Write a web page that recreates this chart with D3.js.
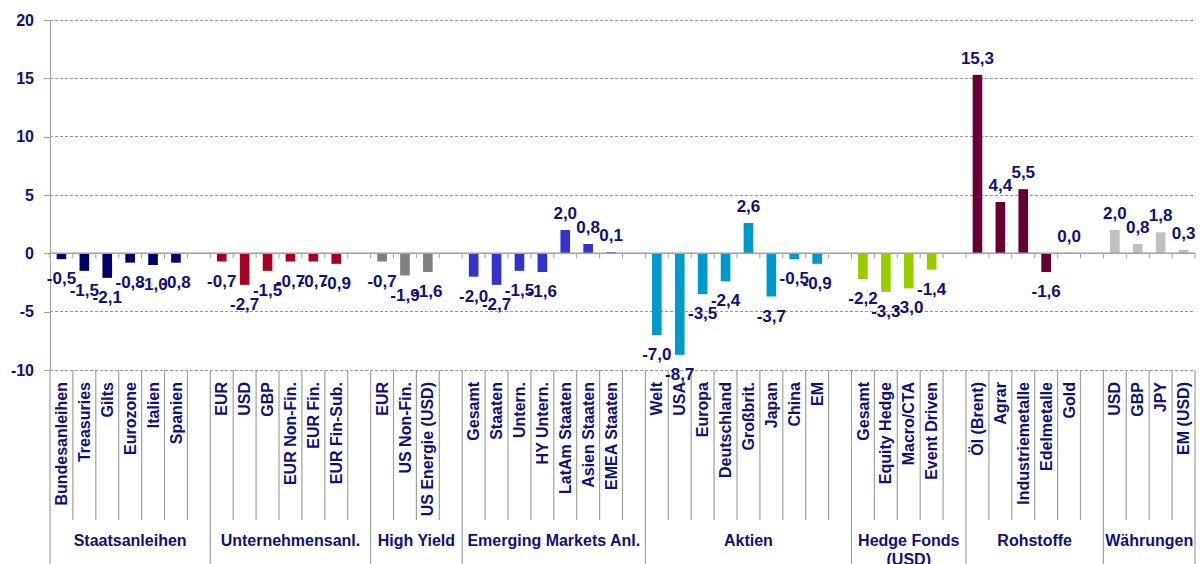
<!DOCTYPE html>
<html>
<head>
<meta charset="utf-8">
<script src="https://cdn.jsdelivr.net/npm/d3@7"></script>
<style>
  html, body { margin: 0; padding: 0; background: #fff; }
  svg { display: block; font-family: "Liberation Sans", Arial, sans-serif; font-weight: bold; }
</style>
</head>
<body>
<svg id="chart" width="1200" height="564"></svg>
<script>
// ---- data ----
const groups = ["Staatsanleihen", "Unternehmensanl.", "High Yield", "Emerging Markets Anl.", "Aktien", "Hedge Fonds (USD)", "Rohstoffe", "Währungen"];
const staatsCats = ["Bundesanleihen", "Treasuries", "Gilts", "Eurozone", "Italien", "Spanien"];
const staatsVals = [-0.5, -1.5, -2.1, -0.8, -1.0, -0.8];
const unternCats = ["EUR", "USD", "GBP", "EUR Non-Fin.", "EUR Fin.", "EUR Fin-Sub."];
const unternVals = [-0.7, -2.7, -1.5, -0.7, -0.7, -0.9];
const hyCats = ["EUR", "US Non-Fin.", "US Energie (USD)"];
const hyVals = [-0.7, -1.9, -1.6];
const emCats = ["Gesamt", "Staaten", "Untern.", "HY Untern.", "LatAm Staaten", "Asien Staaten", "EMEA Staaten"];
const emVals = [-2.0, -2.7, -1.5, -1.6, 2.0, 0.8, 0.1];
const aktienCats = ["Welt", "USA", "Europa", "Deutschland", "Großbrit.", "Japan", "China", "EM"];
const aktienVals = [-7.0, -8.7, -3.5, -2.4, 2.6, -3.7, -0.5, -0.9];
const hedgeCats = ["Gesamt", "Equity Hedge", "Macro/CTA", "Event Driven"];
const hedgeVals = [-2.2, -3.3, -3.0, -1.4];
const rohCats = ["Öl (Brent)", "Agrar", "Industriemetalle", "Edelmetalle", "Gold"];
const rohVals = [15.3, 4.4, 5.5, -1.6, 0.04];
const fxCats = ["USD", "GBP", "JPY", "EM (USD)"];
const fxVals = [2.0, 0.8, 1.8, 0.3];
const yTicks = [-10, -5, 0, 5, 10, 15, 20];

const groupColors = ["#000066", "#a50021", "#808080", "#3333cc", "#0099cc", "#99cc00", "#660033", "#c0c0c0"];
const categories = [staatsCats, unternCats, hyCats, emCats, aktienCats, hedgeCats, rohCats, fxCats];
const values = [staatsVals, unternVals, hyVals, emVals, aktienVals, hedgeVals, rohVals, fxVals];

// ---- slots (each group followed by an empty slot, except the last) ----
const slots = [];
categories.forEach((cats, gi) => {
  cats.forEach((c, ci) => slots.push({ id: gi + "-" + ci, group: gi, label: c, value: values[gi][ci] }));
  if (gi < categories.length - 1) slots.push({ id: gi + "-gap", group: gi, gap: true });
});

const textColor = "#10107a";
const axisColor = "#a0a0a0";
const plotL = 50, plotR = 1195, plotT = 20, plotB = 370;

const svg = d3.select("#chart");
const x = d3.scaleBand().domain(slots.map(d => d.id)).range([plotL, plotR]).padding(0);
const y = d3.scaleLinear().domain([-10, 20]).range([plotB, plotT]);
const bw = x.bandwidth();

// gridlines
svg.append("g").selectAll("line").data(yTicks.filter(t => t !== 0)).join("line")
  .attr("x1", plotL).attr("x2", plotR)
  .attr("y1", d => y(d)).attr("y2", d => y(d))
  .attr("stroke", "#9a9a9a").attr("stroke-width", 1).attr("stroke-dasharray", "3,2")
  .attr("shape-rendering", "crispEdges");

// y axis
const yAxis = d3.axisLeft(y).tickValues(yTicks).tickSize(6).tickSizeOuter(0).tickPadding(10)
  .tickFormat(d => String(d));
const ya = svg.append("g").attr("transform", `translate(${plotL},0)`).call(yAxis);
ya.select(".domain").attr("stroke", axisColor).attr("shape-rendering", "crispEdges");
ya.selectAll(".tick line").attr("stroke", axisColor).attr("shape-rendering", "crispEdges");
ya.selectAll(".tick text").attr("fill", textColor).style("font-size", "16px").style("font-weight", "bold")
  .style("font-family", "'Liberation Sans', Arial, sans-serif");

// bars
const barW = bw * 0.42;
const barSlots = slots.filter(d => !d.gap);
svg.append("g").selectAll("rect").data(barSlots).join("rect")
  .attr("x", d => x(d.id) + (bw - barW) / 2)
  .attr("width", barW)
  .attr("y", d => y(Math.max(0, d.value)))
  .attr("height", d => Math.abs(y(d.value) - y(0)))
  .attr("fill", d => groupColors[d.group]);

// zero axis line with ticks at slot boundaries
const boundaries = slots.map(d => x(d.id)).concat([plotR]);
svg.append("line").attr("x1", plotL).attr("x2", plotR).attr("y1", y(0)).attr("y2", y(0))
  .attr("stroke", axisColor).attr("stroke-width", 1.5);
svg.append("g").selectAll("line").data(boundaries).join("line")
  .attr("x1", d => d).attr("x2", d => d).attr("y1", y(0)).attr("y2", y(0) + 5)
  .attr("stroke", axisColor).attr("stroke-width", 1);

// bottom category separators
const groupEdges = [plotL, plotR];
slots.forEach(d => { if (d.gap) groupEdges.push(x(d.id) + bw); });
svg.append("g").selectAll("line").data(boundaries).join("line")
  .attr("x1", d => d).attr("x2", d => d)
  .attr("y1", plotB)
  .attr("y2", d => groupEdges.some(g => Math.abs(g - d) < 0.5) ? 564 : 520)
  .attr("stroke", axisColor).attr("stroke-width", 1.2);

// category labels (rotated)
svg.append("g").selectAll("text").data(barSlots).join("text")
  .attr("transform", d => `translate(${x(d.id) + bw / 2},382) rotate(-90)`)
  .attr("text-anchor", "end").attr("dy", "0.35em")
  .attr("fill", textColor).style("font-size", "16px")
  .text(d => d.label);

// group labels
const groupRanges = groups.map((g, gi) => {
  const s = slots.filter(d => d.group === gi);
  return { name: g, x0: x(s[0].id), x1: x(s[s.length - 1].id) + bw };
});
const gl = svg.append("g").selectAll("text").data(groupRanges).join("text")
  .attr("x", d => (d.x0 + d.x1) / 2).attr("y", 546)
  .attr("text-anchor", "middle").attr("fill", textColor).style("font-size", "16px");
gl.each(function(d) {
  const t = d3.select(this);
  if (d.name === "Hedge Fonds (USD)") {
    t.append("tspan").attr("x", (d.x0 + d.x1) / 2).text("Hedge Fonds");
    t.append("tspan").attr("x", (d.x0 + d.x1) / 2).attr("dy", 19).text("(USD)");
  } else {
    t.text(d.name);
  }
});

// data labels
svg.append("g").selectAll("text").data(barSlots).join("text")
  .attr("x", d => x(d.id) + bw / 2)
  .attr("y", d => d.value >= 0 ? y(d.value) - 11 : y(d.value) + 25)
  .attr("text-anchor", "middle").attr("fill", textColor).style("font-size", "17px")
  .text(d => d.value.toFixed(1).replace(".", ","));
</script>
</body>
</html>
